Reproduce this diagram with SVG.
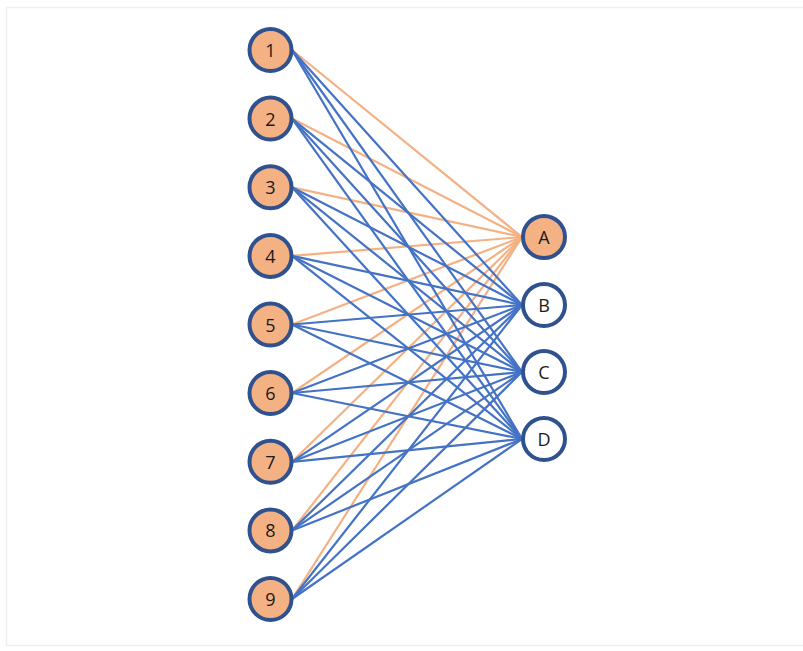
<svg xmlns="http://www.w3.org/2000/svg" width="803" height="651" viewBox="0 0 803 651">
<style>
.bg{fill:#ffffff}
.frame{fill:none;stroke:#efefef;stroke-width:1.5}
.o{stroke:#F4B183;stroke-width:2.2;fill:none}
.b{stroke:#4472C4;stroke-width:2.2;fill:none}
.n circle{stroke:#2F528F;stroke-width:4}
.f circle{fill:#F4B183}
.w circle{fill:#ffffff}
.n text{font-family:"Open Sans","Liberation Sans",sans-serif;font-size:18px;fill:#1a1a1a;text-anchor:middle;dominant-baseline:central}
</style>
<rect class="bg" x="0" y="0" width="803" height="651"/>
<rect class="frame" x="6.5" y="7.5" width="800" height="638"/>
<g id="connectors">
<g id="orange">
<line class="o" x1="292" y1="50" x2="522" y2="237"/>
<line class="o" x1="292" y1="118.6" x2="522" y2="237"/>
<line class="o" x1="292" y1="187.3" x2="522" y2="237"/>
<line class="o" x1="292" y1="255.9" x2="522" y2="237"/>
<line class="o" x1="292" y1="324.5" x2="522" y2="237"/>
<line class="o" x1="292" y1="393" x2="522" y2="237"/>
<line class="o" x1="292" y1="461.8" x2="522" y2="237"/>
<line class="o" x1="292" y1="530.4" x2="522" y2="237"/>
<line class="o" x1="292" y1="599" x2="522" y2="237"/>
</g>
<g id="blue">
<line class="b" x1="292" y1="50" x2="522" y2="305"/>
<line class="b" x1="292" y1="50" x2="522" y2="372"/>
<line class="b" x1="292" y1="50" x2="522" y2="439"/>
<line class="b" x1="292" y1="118.6" x2="522" y2="305"/>
<line class="b" x1="292" y1="118.6" x2="522" y2="372"/>
<line class="b" x1="292" y1="118.6" x2="522" y2="439"/>
<line class="b" x1="292" y1="187.3" x2="522" y2="305"/>
<line class="b" x1="292" y1="187.3" x2="522" y2="372"/>
<line class="b" x1="292" y1="187.3" x2="522" y2="439"/>
<line class="b" x1="292" y1="255.9" x2="522" y2="305"/>
<line class="b" x1="292" y1="255.9" x2="522" y2="372"/>
<line class="b" x1="292" y1="255.9" x2="522" y2="439"/>
<line class="b" x1="292" y1="324.5" x2="522" y2="305"/>
<line class="b" x1="292" y1="324.5" x2="522" y2="372"/>
<line class="b" x1="292" y1="324.5" x2="522" y2="439"/>
<line class="b" x1="292" y1="393" x2="522" y2="305"/>
<line class="b" x1="292" y1="393" x2="522" y2="372"/>
<line class="b" x1="292" y1="393" x2="522" y2="439"/>
<line class="b" x1="292" y1="461.8" x2="522" y2="305"/>
<line class="b" x1="292" y1="461.8" x2="522" y2="372"/>
<line class="b" x1="292" y1="461.8" x2="522" y2="439"/>
<line class="b" x1="292" y1="530.4" x2="522" y2="305"/>
<line class="b" x1="292" y1="530.4" x2="522" y2="372"/>
<line class="b" x1="292" y1="530.4" x2="522" y2="439"/>
<line class="b" x1="292" y1="599" x2="522" y2="305"/>
<line class="b" x1="292" y1="599" x2="522" y2="372"/>
<line class="b" x1="292" y1="599" x2="522" y2="439"/>
</g>
</g>
<g id="n1" class="n f"><circle cx="270.5" cy="50" r="21"/><text x="270.5" y="50">1</text></g>
<g id="n2" class="n f"><circle cx="270.5" cy="118.6" r="21"/><text x="270.5" y="118.6">2</text></g>
<g id="n3" class="n f"><circle cx="270.5" cy="187.3" r="21"/><text x="270.5" y="187.3">3</text></g>
<g id="n4" class="n f"><circle cx="270.5" cy="255.9" r="21"/><text x="270.5" y="255.9">4</text></g>
<g id="n5" class="n f"><circle cx="270.5" cy="324.5" r="21"/><text x="270.5" y="324.5">5</text></g>
<g id="n6" class="n f"><circle cx="270.5" cy="393" r="21"/><text x="270.5" y="393">6</text></g>
<g id="n7" class="n f"><circle cx="270.5" cy="461.8" r="21"/><text x="270.5" y="461.8">7</text></g>
<g id="n8" class="n f"><circle cx="270.5" cy="530.4" r="21"/><text x="270.5" y="530.4">8</text></g>
<g id="n9" class="n f"><circle cx="270.5" cy="599" r="21"/><text x="270.5" y="599">9</text></g>
<g id="nA" class="n f"><circle cx="544" cy="237" r="21"/><text x="544" y="237">A</text></g>
<g id="nB" class="n w"><circle cx="544" cy="305" r="21"/><text x="544" y="305">B</text></g>
<g id="nC" class="n w"><circle cx="544" cy="372" r="21"/><text x="544" y="372">C</text></g>
<g id="nD" class="n w"><circle cx="544" cy="439" r="21"/><text x="544" y="439">D</text></g>
</svg>
